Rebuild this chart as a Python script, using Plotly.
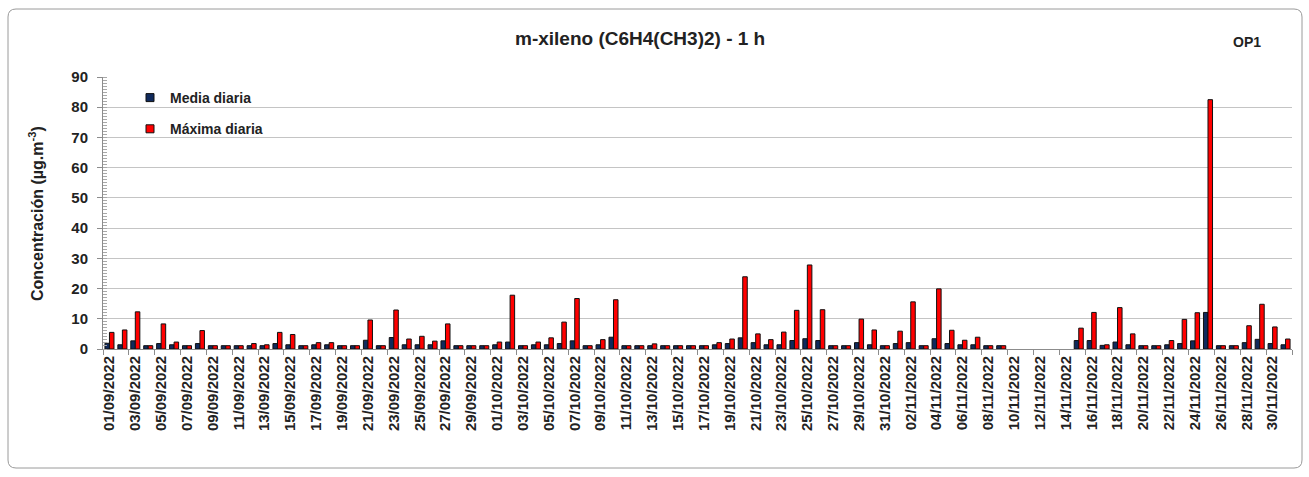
import pandas as pd
import plotly.graph_objects as go

# Daily categories, 01/09/2022 .. 01/12/2022
dates = [d.strftime("%d/%m/%Y") for d in pd.date_range("2022-09-01", "2022-12-01", freq="D")]

# Daily mean (µg/m3)
media_diaria = [
    1.9, 1.4, 2.7, 1.1, 1.8, 1.4, 1.1, 1.8, 1.1, 1.1,
    1.1, 1.1, 1.1, 1.8, 1.4, 1.1, 1.4, 1.4, 1.1, 1.1,
    2.9, 1.1, 3.8, 1.4, 1.4, 1.4, 2.7, 1.1, 1.1, 1.1,
    1.4, 2.3, 1.1, 1.4, 1.4, 1.8, 2.7, 1.1, 1.4, 3.9,
    1.1, 1.1, 1.1, 1.1, 1.1, 1.1, 1.1, 1.4, 1.8, 3.7,
    2.1, 1.4, 1.4, 2.8, 3.4, 2.8, 1.1, 1.1, 2.1, 1.4,
    1.1, 1.8, 2.1, 1.1, 3.4, 1.8, 1.4, 1.4, 1.1, 1.1,
    None, None, None, None, None, 2.8, 2.8, 1.2, 2.3, 1.4,
    1.1, 1.1, 1.4, 1.8, 2.7, 12.1, 1.1, 1.1, 2.1, 3.2,
    1.8, 1.4,
]

# Daily maximum of hourly values (µg/m3)
maxima_diaria = [
    5.5, 6.3, 12.3, 1.1, 8.3, 2.3, 1.1, 6.1, 1.1, 1.1,
    1.1, 1.8, 1.4, 5.5, 4.8, 1.1, 2.1, 2.1, 1.1, 1.1,
    9.6, 1.1, 12.9, 3.3, 4.2, 2.6, 8.3, 1.1, 1.1, 1.1,
    2.3, 17.8, 1.1, 2.3, 3.7, 8.9, 16.7, 1.1, 3.1, 16.3,
    1.1, 1.1, 1.7, 1.1, 1.1, 1.1, 1.1, 2.1, 3.3, 23.9,
    5.0, 3.1, 5.6, 12.8, 27.8, 13.0, 1.1, 1.1, 9.9, 6.3,
    1.1, 5.9, 15.6, 1.1, 19.9, 6.2, 2.9, 3.9, 1.1, 1.1,
    None, None, None, None, None, 6.9, 12.1, 1.4, 13.7, 5.0,
    1.1, 1.1, 2.8, 9.8, 12.0, 82.5, 1.1, 1.1, 7.7, 14.8,
    7.3, 3.3,
]

y_ticks = [0, 10, 20, 30, 40, 50, 60, 70, 80, 90]

NAVY = "#102A5C"
RED = "#FF0000"
FONT = "Liberation Sans"

W, H = 1309, 477
L, R, T, B = 103, 17, 77, 128
pw, ph = W - L - R, H - T - B


def px_x(x):
    return (x - L) / pw


def px_y(y):
    return (H - B - y) / ph


fig = go.Figure()

fig.add_trace(go.Bar(
    x=dates, y=media_diaria, name="Media diaria",
    marker=dict(color=NAVY, line=dict(color="#111111", width=1)),
    showlegend=False,
))
fig.add_trace(go.Bar(
    x=dates, y=maxima_diaria, name="Máxima diaria",
    marker=dict(color=RED, line=dict(color="#111111", width=1)),
    showlegend=False,
))

# small square legend keys
for name, col, grp in [("Media diaria", NAVY, "a"), ("Máxima diaria", RED, "b")]:
    fig.add_trace(go.Scatter(
        x=[None], y=[None], mode="markers", name=name, legendgroup=grp,
        marker=dict(symbol="square", size=8, color=col, line=dict(color="#111111", width=1)),
    ))

# rounded outer frame
x0, x1 = px_x(8), px_x(1302)
y0, y1 = px_y(468), px_y(9)
rx, ry = 8 / pw, 8 / ph
frame = (
    f"M{x0 + rx},{y1} L{x1 - rx},{y1} Q{x1},{y1} {x1},{y1 - ry} "
    f"L{x1},{y0 + ry} Q{x1},{y0} {x1 - rx},{y0} "
    f"L{x0 + rx},{y0} Q{x0},{y0} {x0},{y0 + ry} "
    f"L{x0},{y1 - ry} Q{x0},{y1} {x0 + rx},{y1} Z"
)
fig.add_shape(type="path", path=frame, xref="paper", yref="paper",
              line=dict(color="#9A9A9A", width=1), layer="below")

fig.add_annotation(
    text="<b>Concentración (µg.m<sup>-3</sup>)</b>", textangle=-90,
    xref="paper", yref="paper", x=px_x(36), y=px_y(214),
    xanchor="center", yanchor="middle", showarrow=False,
    font=dict(family=FONT, size=16, color="#222222"),
)
fig.add_annotation(
    text="<b>m-xileno (C6H4(CH3)2) - 1 h</b>",
    xref="paper", yref="paper", x=px_x(640), y=px_y(38),
    xanchor="center", yanchor="middle", showarrow=False,
    font=dict(family=FONT, size=19, color="#222222"),
)
fig.add_annotation(
    text="<b>OP1</b>",
    xref="paper", yref="paper", x=px_x(1247), y=px_y(42),
    xanchor="center", yanchor="middle", showarrow=False,
    font=dict(family=FONT, size=14, color="#222222"),
)

fig.update_layout(
    width=W, height=H,
    margin=dict(l=L, r=R, t=T, b=B),
    paper_bgcolor="white", plot_bgcolor="white",
    barmode="group", bargap=0.3, bargroupgap=0.0,
    font=dict(family=FONT, color="#222222"),
    legend=dict(
        x=px_x(130), y=px_y(82), xanchor="left", yanchor="top",
        bgcolor="rgba(0,0,0,0)", traceorder="grouped", tracegroupgap=10,
        font=dict(family=FONT, size=14, weight="bold", color="#222222"),
        itemwidth=30,
    ),
    showlegend=True,
)

fig.update_xaxes(
    type="category", categoryorder="array", categoryarray=dates,
    tickmode="linear", tick0=0, dtick=2, tickson="boundaries",
    tickangle=-90, ticks="outside", ticklen=5, tickcolor="#8C8C8C",
    showline=True, linecolor="#8C8C8C", linewidth=1,
    showgrid=False, zeroline=False,
    tickfont=dict(family=FONT, size=15, weight="bold", color="#222222"),
    range=[-0.5, len(dates) - 0.5],
)
fig.update_yaxes(
    range=[0, 90], tickmode="array", tickvals=y_ticks,
    ticks="outside", ticklen=5, tickcolor="#8C8C8C",
    showline=True, linecolor="#8C8C8C", linewidth=1,
    showgrid=True, gridcolor="#C4C4C4", gridwidth=1, zeroline=False,
    minor=dict(ticks="inside", dtick=1, ticklen=4, tickcolor="#A8A8A8", showgrid=False),
    tickfont=dict(family=FONT, size=15, weight="bold", color="#222222"),
    ticklabelstandoff=6,
)

fig.write_html("out.html")
